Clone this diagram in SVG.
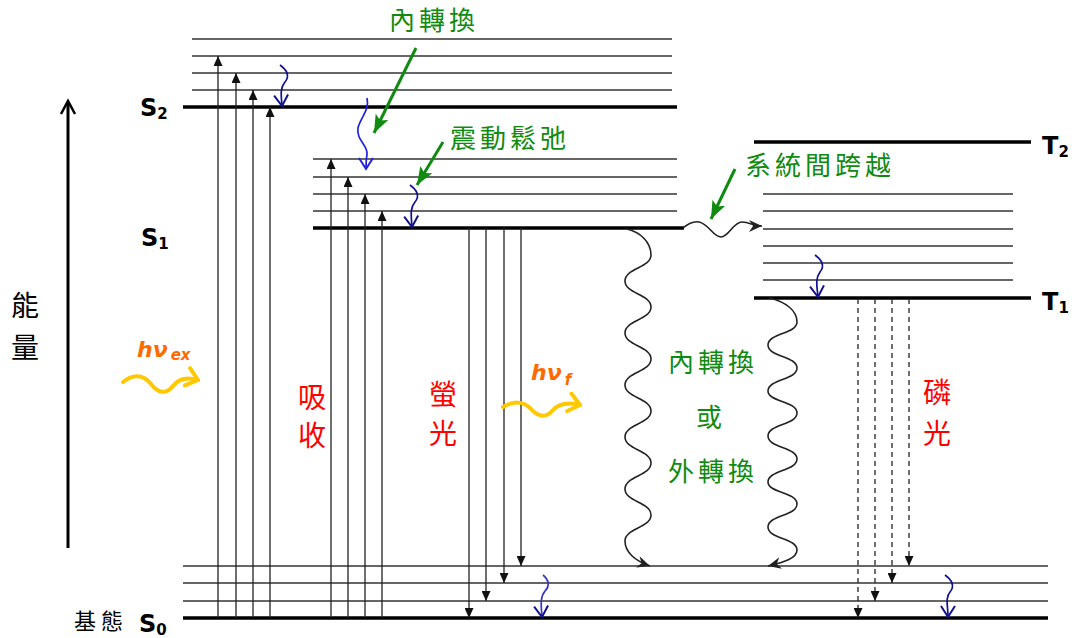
<svg xmlns="http://www.w3.org/2000/svg" width="1074" height="638" viewBox="0 0 1074 638">
<style>
.thick{stroke:#000;stroke-width:3.4;fill:none}
.thin{stroke:#333;stroke-width:1.3;fill:none}
.up{stroke:#222;stroke-width:1.3;fill:none;marker-end:url(#tri)}
.down{stroke:#222;stroke-width:1.3;fill:none;marker-end:url(#tri)}
.dash{stroke:#222;stroke-width:1.3;fill:none;stroke-dasharray:5 4;marker-end:url(#tri)}
.navy{stroke:#101090;stroke-width:1.7;fill:none;marker-end:url(#vnavy)}
.blue{stroke:#2020e0;stroke-width:1.7;fill:none;marker-end:url(#vblue)}
.green{stroke:#108a10;stroke-width:3;fill:none;marker-end:url(#garr)}
.wave{stroke:#222;stroke-width:1.6;fill:none;marker-end:url(#barb)}
.ywave{stroke:#ffc800;stroke-width:4;fill:none;stroke-linecap:round;marker-end:url(#ychev)}
.lbl{font-family:"DejaVu Sans","Liberation Sans",sans-serif;font-weight:bold;fill:#000}
.cjk{font-family:"Noto Sans CJK TC","Noto Sans CJK SC",sans-serif}
.gtx{fill:#108a10;font-size:26px;letter-spacing:4px}
.rtx{fill:#ff0000;font-size:28px;text-anchor:middle}
.hv{font-family:"DejaVu Sans","Liberation Sans",sans-serif;font-weight:bold;font-style:italic;fill:#ff6a00}
</style>
<defs>
<marker id="tri" markerUnits="userSpaceOnUse" markerWidth="10" markerHeight="9" refX="10" refY="4.5" orient="auto"><path d="M0,0 L10,4.5 L0,9 z" fill="#111"/></marker>
<marker id="vnavy" markerUnits="userSpaceOnUse" markerWidth="14" markerHeight="16" refX="12" refY="8" orient="auto"><path d="M1,1 L12,8 L1,15" fill="none" stroke="#101090" stroke-width="2"/></marker>
<marker id="vblue" markerUnits="userSpaceOnUse" markerWidth="14" markerHeight="16" refX="12" refY="8" orient="auto"><path d="M1,1 L12,8 L1,15" fill="none" stroke="#2020e0" stroke-width="2"/></marker>
<marker id="garr" markerUnits="userSpaceOnUse" markerWidth="20" markerHeight="14" refX="18" refY="7" orient="auto"><path d="M0,0 L18,7 L0,14 L4,7 z" fill="#108a10"/></marker>
<marker id="barb" markerUnits="userSpaceOnUse" markerWidth="14" markerHeight="12" refX="13" refY="6" orient="auto"><path d="M0,0 L13,6 L0,12 L4,6 z" fill="#222"/></marker>
<marker id="ychev" markerUnits="userSpaceOnUse" markerWidth="16" markerHeight="22" refX="13" refY="11" orient="auto"><path d="M2,2 L13,11 L2,20" fill="none" stroke="#ffc800" stroke-width="4" stroke-linecap="round" stroke-linejoin="round"/></marker>
</defs>
<rect width="1074" height="638" fill="#fff"/>

<g id="axis">
<line x1="68" y1="548" x2="68" y2="102" stroke="#000" stroke-width="3"/>
<path d="M61,114 L68,101 L75,114" fill="none" stroke="#000" stroke-width="2.5"/>
<text class="cjk" x="25" y="316" font-size="28" text-anchor="middle" fill="#000">能</text>
<text class="cjk" x="25" y="358" font-size="28" text-anchor="middle" fill="#000">量</text>
</g>

<g id="S2">
<line class="thin" x1="192" y1="39" x2="672" y2="39"/>
<line class="thin" x1="192" y1="56" x2="672" y2="56"/>
<line class="thin" x1="192" y1="73" x2="672" y2="73"/>
<line class="thin" x1="192" y1="90" x2="672" y2="90"/>
<line class="thick" x1="183" y1="107" x2="677" y2="107"/>
<text class="lbl" x="140" y="116" font-size="24">S<tspan font-size="15" dy="3">2</tspan></text>
</g>

<g id="S1">
<line class="thin" x1="313" y1="159" x2="677" y2="159"/>
<line class="thin" x1="313" y1="177" x2="677" y2="177"/>
<line class="thin" x1="313" y1="194" x2="677" y2="194"/>
<line class="thin" x1="313" y1="211" x2="677" y2="211"/>
<line class="thick" x1="313" y1="228" x2="684" y2="228"/>
<text class="lbl" x="141" y="246" font-size="24">S<tspan font-size="15" dy="3">1</tspan></text>
</g>

<g id="T2">
<line class="thick" x1="754" y1="142" x2="1031" y2="142"/>
<text class="lbl" x="1042" y="154" font-size="24">T<tspan font-size="15" dy="3">2</tspan></text>
</g>

<g id="T1">
<line class="thin" x1="763" y1="194" x2="1013" y2="194"/>
<line class="thin" x1="763" y1="211" x2="1013" y2="211"/>
<line class="thin" x1="763" y1="229" x2="1013" y2="229"/>
<line class="thin" x1="763" y1="246" x2="1013" y2="246"/>
<line class="thin" x1="763" y1="263" x2="1013" y2="263"/>
<line class="thin" x1="763" y1="280" x2="1013" y2="280"/>
<line class="thick" x1="754" y1="298" x2="1031" y2="298"/>
<text class="lbl" x="1042" y="310" font-size="24">T<tspan font-size="15" dy="3">1</tspan></text>
</g>

<g id="S0">
<line class="thin" x1="183" y1="566" x2="1048" y2="566"/>
<line class="thin" x1="183" y1="583" x2="1048" y2="583"/>
<line class="thin" x1="183" y1="601" x2="1048" y2="601"/>
<line class="thick" x1="183" y1="618" x2="1048" y2="618"/>
<text class="cjk" x="74" y="629" font-size="22" letter-spacing="5" fill="#000">基態</text>
<text class="lbl" x="139" y="632" font-size="24">S<tspan font-size="15" dy="3">0</tspan></text>
</g>

<g id="connectors">
<line class="up" x1="218" y1="618" x2="218" y2="56"/>
<line class="up" x1="236" y1="618" x2="236" y2="73"/>
<line class="up" x1="253" y1="618" x2="253" y2="90"/>
<line class="up" x1="270" y1="618" x2="270" y2="107"/>
<line class="up" x1="331" y1="618" x2="331" y2="159"/>
<line class="up" x1="348" y1="618" x2="348" y2="177"/>
<line class="up" x1="365" y1="618" x2="365" y2="194"/>
<line class="up" x1="382" y1="618" x2="382" y2="211"/>
<line class="down" x1="469" y1="228" x2="469" y2="618"/>
<line class="down" x1="486" y1="228" x2="486" y2="601"/>
<line class="down" x1="504" y1="228" x2="504" y2="583"/>
<line class="down" x1="521" y1="228" x2="521" y2="566"/>
<line class="dash" x1="858" y1="299" x2="858" y2="618"/>
<line class="dash" x1="875" y1="299" x2="875" y2="601"/>
<line class="dash" x1="892" y1="299" x2="892" y2="583"/>
<line class="dash" x1="909" y1="299" x2="909" y2="566"/>
<path class="navy" d="M280,65 C287,70 290,76 285,82 C280,88 281,94 282,106"/>
<path class="blue" d="M367,98 C370,110 360,118 358,128 C356,140 368,145 367,154 C366,160 366,164 366,169"/>
<path class="navy" d="M410,185 C417,190 420,196 415,202 C410,208 411,214 412,227"/>
<path class="navy" d="M815,255 C822,260 825,266 820,272 C815,279 817,286 818,297"/>
<path class="blue" style="stroke:#3535c0;marker-end:url(#vnavy)" d="M543,575 C549,580 550,586 545,591 C540,597 541,605 542,617"/>
<path class="navy" d="M945,575 C952,580 955,586 950,592 C945,598 948,606 948,617"/>
<line class="green" x1="416" y1="48" x2="374" y2="133"/>
<line class="green" x1="443" y1="142" x2="417" y2="185"/>
<line class="green" x1="735" y1="169" x2="711" y2="219"/>
<path class="wave" d="M683,228 C689,223 694,221 699,222 C709,224 713,237 721,237 C729,237 733,222 742,222 C750,222 753,226 762,226"/>
<path class="wave" d="M627,229 C640,232 651,242 651,255 C651,268 625,268 625,281 C625,294 651,294 651,307 C651,320 625,320 625,333 C625,346 651,346 651,359 C651,372 625,372 625,385 C625,398 651,398 651,411 C651,424 625,424 625,437 C625,450 651,450 651,463 C651,476 625,476 625,489 C625,502 651,502 651,515 C651,528 625,528 625,541 C625,552 635,561 650,566"/>
<path class="wave" d="M770,298 C785,302 797,310 797,322 C797,334 768,333 768,345 C768,357 797,356 797,368 C797,380 768,379 768,391 C768,402 797,401 797,413 C797,425 768,424 768,436 C768,448 797,447 797,459 C797,471 768,470 768,482 C768,493 797,492 797,504 C797,516 768,515 768,527 C768,539 797,538 797,550 C797,558 785,562 768,566"/>
<path class="ywave" d="M123,382 C133,374 143,374 151,384 C158,393 166,395 173,386 C179,378 188,377 198,380"/>
<path class="ywave" d="M503,407 C513,401 523,401 530,408 C537,416 545,419 552,411 C558,404 568,402 580,405"/>
</g>

<g id="labels">
<text class="cjk gtx" x="389" y="30">內轉換</text>
<text class="cjk gtx" x="450" y="148">震動鬆弛</text>
<text class="cjk gtx" x="745" y="175">系統間跨越</text>
<text class="cjk gtx" x="668" y="372">內轉換</text>
<text class="cjk gtx" x="711" y="427" text-anchor="middle" letter-spacing="0">或</text>
<text class="cjk gtx" x="668" y="481">外轉換</text>
<text class="cjk rtx" x="312" y="408">吸</text>
<text class="cjk rtx" x="312" y="446">收</text>
<text class="cjk rtx" x="443" y="405">螢</text>
<text class="cjk rtx" x="443" y="444">光</text>
<text class="cjk rtx" x="937" y="403">磷</text>
<text class="cjk rtx" x="937" y="444">光</text>
<text class="hv" x="137" y="357" font-size="22">hν<tspan font-size="15" dy="3" dx="3">ex</tspan></text>
<text class="hv" x="531" y="380" font-size="22">hν<tspan font-size="15" dy="5" dx="3">f</tspan></text>
</g>
</svg>
